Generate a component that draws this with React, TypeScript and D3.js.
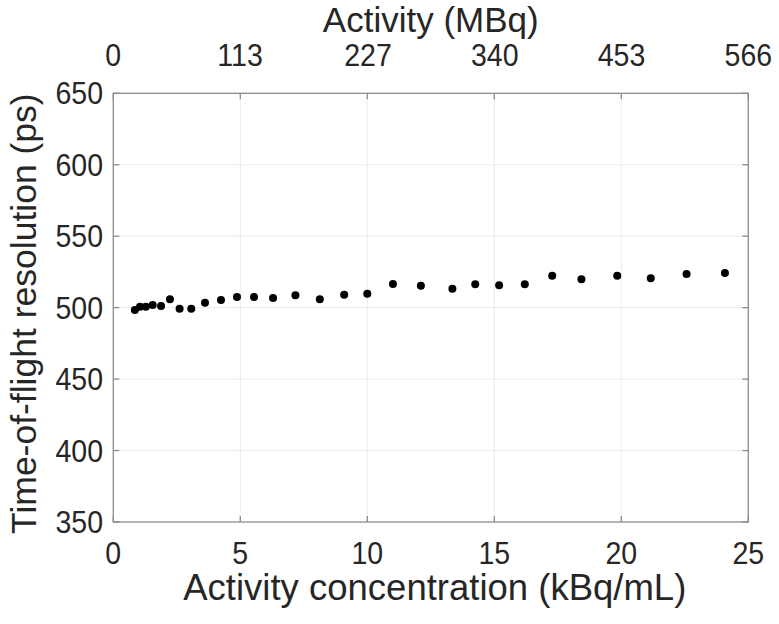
import React from 'react';
import * as d3 from 'd3';

// activity concentration (kBq/mL) vs TOF resolution (ps)
const concentration = [0.85, 1.05, 1.28, 1.55, 1.88, 2.23, 2.61, 3.07, 3.61, 4.24, 4.87, 5.54, 6.29, 7.17, 8.13, 9.09, 10.0, 11.01, 12.11, 13.35, 14.25, 15.19, 16.2, 17.28, 18.43, 19.84, 21.16, 22.57, 24.08];
const resolution = [498.4, 500.7, 500.7, 501.9, 501.2, 505.8, 499.3, 499.3, 503.5, 505.4, 507.5, 507.5, 506.8, 508.6, 505.8, 509.1, 509.8, 516.6, 515.4, 513.3, 516.3, 515.6, 516.3, 522.4, 519.8, 522.4, 520.5, 523.5, 524.2];

const xTicks = [0, 5, 10, 15, 20, 25];
const yTicks = [350, 400, 450, 500, 550, 600, 650];
const activityTicks = [0, 113, 227, 340, 453, 566];

const W = 779, H = 624;
const margin = { top: 93.3, right: 30.7, bottom: 102, left: 113.3 };

const App = () => {
  const x = d3.scaleLinear().domain([0, 25]).range([margin.left, W - margin.right]);
  const xTop = d3.scaleLinear().domain([0, 566]).range([margin.left, W - margin.right]);
  const y = d3.scaleLinear().domain([350, 650]).range([H - margin.bottom, margin.top]);

  const [x0, x1] = x.range();
  const [y0, y1] = y.range(); // y0 bottom, y1 top
  const font = 'Liberation Sans, Arial, Helvetica, sans-serif';
  const txt = '#262626';
  const axisCol = '#8c8c8c';
  const tk = 6;

  const pts = concentration.map((c, i) => ({ c, r: resolution[i] }));

  return (
    <svg width={W} height={H} style={{ position: 'absolute', left: 0, top: 0, background: '#fff' }}>
      {/* grid */}
      <g stroke="#ebebeb" strokeWidth={1}>
        {xTicks.slice(1, -1).map(t => (
          <line key={'gx' + t} x1={x(t)} x2={x(t)} y1={y0} y2={y1} />
        ))}
        {yTicks.slice(1, -1).map(t => (
          <line key={'gy' + t} x1={x0} x2={x1} y1={y(t)} y2={y(t)} />
        ))}
      </g>

      {/* box */}
      <rect x={x0} y={y1} width={x1 - x0} height={y0 - y1} fill="none" stroke={axisCol} strokeWidth={1.3} />

      {/* ticks */}
      <g stroke={axisCol} strokeWidth={1.3}>
        {xTicks.map(t => (
          <g key={'tx' + t}>
            <line x1={x(t)} x2={x(t)} y1={y0} y2={y0 - tk} />
            <line x1={x(t)} x2={x(t)} y1={y1} y2={y1 + tk} />
          </g>
        ))}
        {yTicks.map(t => (
          <g key={'ty' + t}>
            <line x1={x0} x2={x0 + tk} y1={y(t)} y2={y(t)} />
            <line x1={x1} x2={x1 - tk} y1={y(t)} y2={y(t)} />
          </g>
        ))}
      </g>

      {/* tick labels */}
      <g fill={txt} fontFamily={font} fontSize={31}>
        {xTicks.map(t => (
          <text key={'lx' + t} transform={`translate(${x(t)},564) scale(0.92,1)`} textAnchor="middle">{t}</text>
        ))}
        {activityTicks.map(t => (
          <text key={'la' + t} transform={`translate(${xTop(t)},66) scale(0.92,1)`} textAnchor="middle">{t}</text>
        ))}
        {yTicks.map(t => (
          <text key={'ly' + t} transform={`translate(103,${y(t) + 11}) scale(0.92,1)`} textAnchor="end">{t}</text>
        ))}
      </g>

      {/* axis titles */}
      <g fill={txt} fontFamily={font} fontSize={35}>
        <text x={(x0 + x1) / 2 + 4} y={600} fontSize={36.5} textAnchor="middle">Activity concentration (kBq/mL)</text>
        <text x={(x0 + x1) / 2} y={32} textAnchor="middle">Activity (MBq)</text>
        <text transform={`translate(36,${(y0 + y1) / 2 + 6}) rotate(-90)`} fontSize={35.5} textAnchor="middle">Time-of-flight resolution (ps)</text>
      </g>

      {/* points */}
      <g fill="#000">
        {pts.map((p, i) => (
          <circle key={i} cx={x(p.c)} cy={y(p.r)} r={4} />
        ))}
      </g>
    </svg>
  );
};

export default App;
